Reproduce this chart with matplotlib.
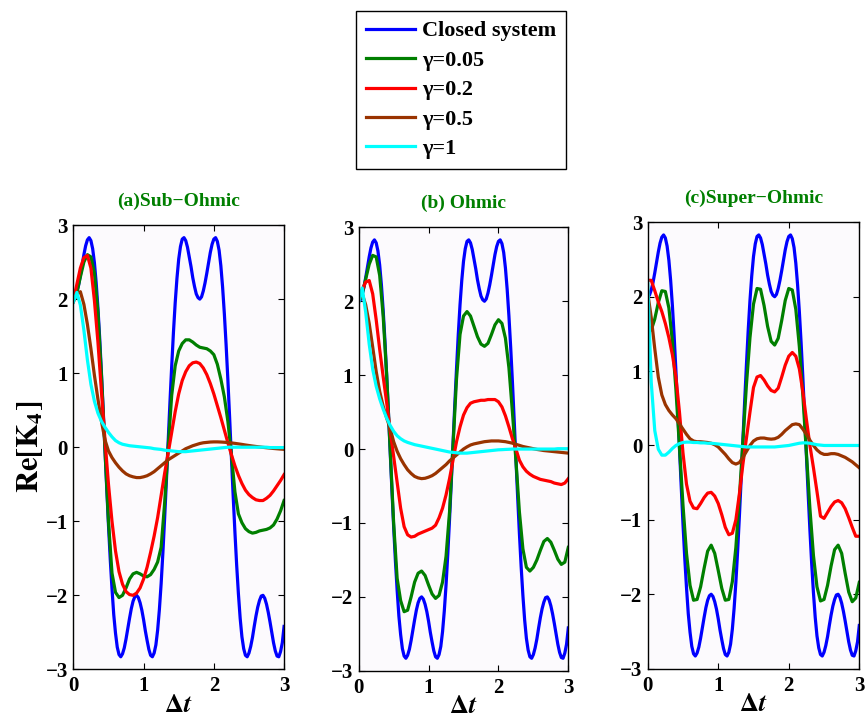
import numpy as np
import matplotlib
matplotlib.use("Agg")
import matplotlib.pyplot as plt

# time axis (Delta t): damped curves every 0.05, closed system every 0.025
t = np.linspace(0, 3, 61)
t_closed = np.linspace(0, 3, 121)

# closed system (same in every panel)
closed = [2.00, 2.02, 2.09, 2.19, 2.32, 2.46, 2.60, 2.72, 2.80, 2.83,
          2.79, 2.68, 2.49, 2.22, 1.88, 1.47, 1.00, 0.50, -0.03, -0.55,
          -1.05, -1.51, -1.91, -2.26, -2.51, -2.70, -2.80, -2.83, -2.79, -2.71,
          -2.59, -2.45, -2.31, -2.18, -2.08, -2.02, -2.00, -2.03, -2.10, -2.20,
          -2.33, -2.48, -2.61, -2.73, -2.81, -2.83, -2.78, -2.67, -2.47, -2.19,
          -1.84, -1.42, -0.95, -0.45, 0.08, 0.60, 1.09, 1.55, 1.95, 2.28,
          2.54, 2.71, 2.81, 2.83, 2.79, 2.70, 2.57, 2.44, 2.29, 2.17,
          2.07, 2.02, 2.00, 2.03, 2.11, 2.22, 2.35, 2.49, 2.63, 2.74,
          2.81, 2.83, 2.78, 2.66, 2.45, 2.16, 1.80, 1.38, 0.91, 0.40,
          -0.13, -0.65, -1.14, -1.59, -1.98, -2.31, -2.56, -2.72, -2.81, -2.83,
          -2.78, -2.69, -2.57, -2.42, -2.28, -2.16, -2.07, -2.01, -2.00, -2.04,
          -2.12, -2.23, -2.36, -2.50, -2.64, -2.75, -2.82, -2.83, -2.76, -2.64,
          -2.42]

# (a) sub-ohmic
sub_g005 = [2.00, 2.09, 2.30, 2.50, 2.60, 2.57, 2.35, 1.82, 0.97, -0.03,
            -1.00, -1.70, -1.96, -2.03, -2.00, -1.90, -1.78, -1.71, -1.69, -1.71,
            -1.74, -1.75, -1.72, -1.65, -1.55, -1.35, -0.75, 0.00, 0.70, 1.10,
            1.30, 1.40, 1.45, 1.45, 1.42, 1.38, 1.35, 1.34, 1.33, 1.30,
            1.25, 1.12, 0.92, 0.68, 0.35, -0.10, -0.60, -0.90, -1.02, -1.10,
            -1.14, -1.16, -1.15, -1.13, -1.12, -1.11, -1.09, -1.05, -0.97, -0.86,
            -0.72]
sub_g02 = [1.98, 2.20, 2.42, 2.56, 2.59, 2.42, 1.98, 1.42, 0.75, 0.10,
           -0.50, -1.00, -1.40, -1.68, -1.85, -1.95, -1.99, -2.00, -1.97, -1.90,
           -1.78, -1.62, -1.42, -1.20, -0.95, -0.65, -0.35, -0.08, 0.20, 0.48,
           0.72, 0.90, 1.02, 1.10, 1.14, 1.15, 1.13, 1.07, 0.98, 0.86,
           0.72, 0.56, 0.40, 0.23, 0.06, -0.10, -0.25, -0.38, -0.49, -0.58,
           -0.64, -0.68, -0.71, -0.72, -0.72, -0.69, -0.65, -0.59, -0.52, -0.45,
           -0.37]
sub_g05 = [1.96, 2.07, 2.10, 1.93, 1.66, 1.33, 0.97, 0.65, 0.35, 0.10,
           -0.05, -0.14, -0.21, -0.27, -0.32, -0.36, -0.385, -0.40, -0.41, -0.41,
           -0.40, -0.385, -0.36, -0.33, -0.29, -0.25, -0.21, -0.17, -0.14, -0.11,
           -0.08, -0.05, -0.02, 0.00, 0.02, 0.035, 0.05, 0.06, 0.065, 0.07,
           0.072, 0.072, 0.07, 0.067, 0.063, 0.058, 0.052, 0.045, 0.038, 0.03,
           0.023, 0.016, 0.01, 0.004, -0.002, -0.007, -0.012, -0.017, -0.021, -0.025,
           -0.028]
sub_g1 = [1.96, 2.09, 1.92, 1.58, 1.18, 0.85, 0.62, 0.46, 0.35, 0.27,
          0.20, 0.14, 0.09, 0.06, 0.04, 0.03, 0.02, 0.015, 0.01, 0.005,
          0.00, -0.005, -0.01, -0.02, -0.025, -0.03, -0.04, -0.045, -0.05, -0.055,
          -0.06, -0.06, -0.06, -0.055, -0.05, -0.045, -0.04, -0.035, -0.03, -0.025,
          -0.02, -0.015, -0.01, -0.005, 0.00, 0.00, 0.00, 0.00, 0.00, 0.00,
          0.00, 0.00, 0.00, 0.00, 0.00, 0.00, -0.005, -0.005, -0.005, -0.005,
          -0.005]

# (b) ohmic
ohm_g005 = [2.00, 2.10, 2.30, 2.50, 2.62, 2.60, 2.35, 1.80, 1.00, 0.00,
            -1.00, -1.75, -2.05, -2.20, -2.18, -2.00, -1.80, -1.68, -1.65, -1.71,
            -1.84, -1.96, -2.02, -1.98, -1.80, -1.45, -0.85, 0.05, 0.95, 1.55,
            1.80, 1.86, 1.80, 1.66, 1.52, 1.42, 1.39, 1.43, 1.55, 1.68,
            1.75, 1.70, 1.50, 1.10, 0.50, -0.15, -0.85, -1.35, -1.60, -1.65,
            -1.60, -1.50, -1.37, -1.25, -1.21, -1.26, -1.37, -1.49, -1.56, -1.53,
            -1.33]
ohm_g02 = [2.00, 2.15, 2.26, 2.28, 2.10, 1.75, 1.35, 0.98, 0.63, 0.25,
           -0.10, -0.45, -0.80, -1.05, -1.16, -1.19, -1.18, -1.15, -1.13, -1.11,
           -1.09, -1.07, -1.03, -0.93, -0.80, -0.62, -0.40, -0.15, 0.10, 0.30,
           0.46, 0.56, 0.62, 0.64, 0.65, 0.66, 0.66, 0.67, 0.67, 0.67,
           0.64, 0.57, 0.45, 0.30, 0.14, 0.00, -0.15, -0.24, -0.30, -0.34,
           -0.37, -0.39, -0.41, -0.42, -0.43, -0.44, -0.46, -0.47, -0.48, -0.46,
           -0.40]
ohm_g05 = [2.00, 2.10, 1.95, 1.70, 1.38, 1.05, 0.78, 0.58, 0.42, 0.28,
           0.10, -0.03, -0.13, -0.21, -0.28, -0.33, -0.37, -0.39, -0.40, -0.395,
           -0.38, -0.36, -0.33, -0.29, -0.25, -0.21, -0.16, -0.12, -0.08, -0.04,
           0.00, 0.03, 0.055, 0.07, 0.08, 0.09, 0.10, 0.105, 0.11, 0.11,
           0.11, 0.105, 0.10, 0.09, 0.08, 0.065, 0.05, 0.035, 0.025, 0.015,
           0.005, -0.005, -0.012, -0.02, -0.025, -0.03, -0.035, -0.04, -0.045, -0.05,
           -0.055]
ohm_g1 = [1.98, 2.18, 1.85, 1.42, 1.08, 0.85, 0.68, 0.54, 0.42, 0.32,
          0.24, 0.18, 0.14, 0.11, 0.09, 0.075, 0.06, 0.05, 0.04, 0.03,
          0.02, 0.01, 0.00, -0.01, -0.02, -0.03, -0.04, -0.045, -0.05, -0.055,
          -0.055, -0.055, -0.05, -0.045, -0.04, -0.035, -0.03, -0.025, -0.02, -0.015,
          -0.01, -0.008, -0.005, -0.003, 0.00, 0.00, 0.00, 0.00, 0.00, 0.00,
          0.00, 0.00, 0.00, 0.00, 0.00, 0.00, 0.00, 0.005, 0.005, 0.005,
          0.005]

# (c) super-ohmic
sup_g005 = [1.62, 1.55, 1.70, 1.92, 2.08, 2.07, 1.85, 1.40, 0.75, -0.02,
            -0.80, -1.45, -1.88, -2.08, -2.07, -1.90, -1.65, -1.42, -1.34, -1.45,
            -1.68, -1.92, -2.08, -2.07, -1.83, -1.37, -0.70, 0.06, 0.82, 1.45,
            1.90, 2.11, 2.10, 1.88, 1.60, 1.40, 1.35, 1.44, 1.68, 1.95,
            2.11, 2.09, 1.83, 1.33, 0.67, -0.10, -0.85, -1.48, -1.90, -2.09,
            -2.07, -1.88, -1.62, -1.40, -1.34, -1.45, -1.72, -1.97, -2.10, -2.05,
            -1.84]
sup_g02 = [2.22, 2.22, 2.08, 1.93, 1.80, 1.64, 1.45, 1.22, 0.92, 0.45,
           -0.10, -0.52, -0.75, -0.84, -0.85, -0.78, -0.70, -0.64, -0.63, -0.68,
           -0.78, -0.93, -1.10, -1.20, -1.18, -1.00, -0.65, -0.25, 0.10, 0.45,
           0.78, 0.92, 0.94, 0.88, 0.80, 0.74, 0.72, 0.77, 0.92, 1.08,
           1.20, 1.25, 1.20, 1.03, 0.72, 0.35, 0.00, -0.30, -0.62, -0.95,
           -0.98, -0.90, -0.82, -0.76, -0.74, -0.77, -0.85, -0.97, -1.10, -1.22,
           -1.22]
sup_g05 = [2.05, 1.72, 1.30, 0.92, 0.68, 0.55, 0.47, 0.41, 0.36, 0.29,
           0.22, 0.15, 0.09, 0.06, 0.05, 0.05, 0.045, 0.04, 0.03, 0.01,
           -0.02, -0.07, -0.12, -0.18, -0.23, -0.25, -0.23, -0.16, -0.08, 0.00,
           0.06, 0.09, 0.10, 0.10, 0.09, 0.085, 0.09, 0.11, 0.15, 0.20,
           0.24, 0.28, 0.29, 0.28, 0.22, 0.15, 0.07, 0.00, -0.06, -0.10,
           -0.12, -0.12, -0.11, -0.11, -0.12, -0.14, -0.16, -0.19, -0.22, -0.26,
           -0.30]
sup_g1 = [2.20, 0.85, 0.20, -0.05, -0.13, -0.13, -0.09, -0.04, 0.00, 0.025,
          0.04, 0.045, 0.045, 0.04, 0.04, 0.035, 0.035, 0.03, 0.03, 0.025,
          0.02, 0.015, 0.01, 0.005, 0.00, -0.005, -0.01, -0.015, -0.02, -0.02,
          -0.02, -0.02, -0.02, -0.02, -0.02, -0.02, -0.02, -0.015, -0.01, -0.005,
          0.00, 0.01, 0.02, 0.03, 0.035, 0.035, 0.03, 0.02, 0.01, 0.005,
          0.00, 0.00, 0.00, 0.00, 0.00, 0.00, 0.00, 0.00, 0.00, 0.00,
          0.00]

titles = ["(a)Sub\u2212Ohmic", "(b) Ohmic", "(c)Super\u2212Ohmic"]
labels = ["Closed system", "\u03b3=0.05", "\u03b3=0.2", "\u03b3=0.5", "\u03b3=1"]
colors = ["#0000ff", "#007f00", "#ff0000", "#993300", "#00ffff"]

panels = [
    [sub_g005, sub_g02, sub_g05, sub_g1],
    [ohm_g005, ohm_g02, ohm_g05, ohm_g1],
    [sup_g005, sup_g02, sup_g05, sup_g1],
]

plt.rcParams["font.family"] = ["Liberation Serif", "DejaVu Serif"]
plt.rcParams["font.weight"] = "bold"
plt.rcParams["mathtext.fontset"] = "stix"

fig = plt.figure(figsize=(8.65, 7.26), dpi=100)

positions = [
    [0.0848, 0.0780, 0.2436, 0.6120],
    [0.4147, 0.0760, 0.2423, 0.6109],
    [0.7488, 0.0790, 0.2446, 0.6148],
]

axes = []
for pos, title, series in zip(positions, titles, panels):
    ax = fig.add_axes(pos)
    ax.set_facecolor("#fcfafd")
    ax.plot(t_closed, closed, color=colors[0], lw=2.3, label=labels[0])
    for y, c, lab in zip(series, colors[1:], labels[1:]):
        ax.plot(t, y, color=c, lw=2.3, label=lab)
    ax.set_xlim(0, 3)
    ax.set_ylim(-3, 3)
    ax.set_xticks([0, 1, 2, 3])
    ax.set_yticks([-3, -2, -1, 0, 1, 2, 3])
    ax.tick_params(direction="in", top=True, right=True, labelsize=15,
                   length=4, width=0.8)
    ax.tick_params(axis="x", pad=5)
    ax.tick_params(axis="y", pad=4)
    for s in ax.spines.values():
        s.set_linewidth(1.0)
    ax.set_title(title, color="#007f00", fontsize=14, fontweight="bold", pad=14)
    ax.set_xlabel(r"$\mathbf{\Delta}t$", fontsize=19, labelpad=-1)
    axes.append(ax)

axes[0].set_ylabel(r"$\mathrm{Re}[\mathbf{K}_4]$", fontsize=22, labelpad=0)

handles, labs = axes[0].get_legend_handles_labels()
fig.legend(handles, labs, loc="upper center", bbox_to_anchor=(0.533, 0.985),
           fontsize=16, frameon=True, fancybox=False, edgecolor="black",
           handlelength=2.2, handletextpad=0.3, labelspacing=0.4,
           borderpad=0.45, borderaxespad=0, framealpha=1)

fig.savefig("out.png", dpi=100)
